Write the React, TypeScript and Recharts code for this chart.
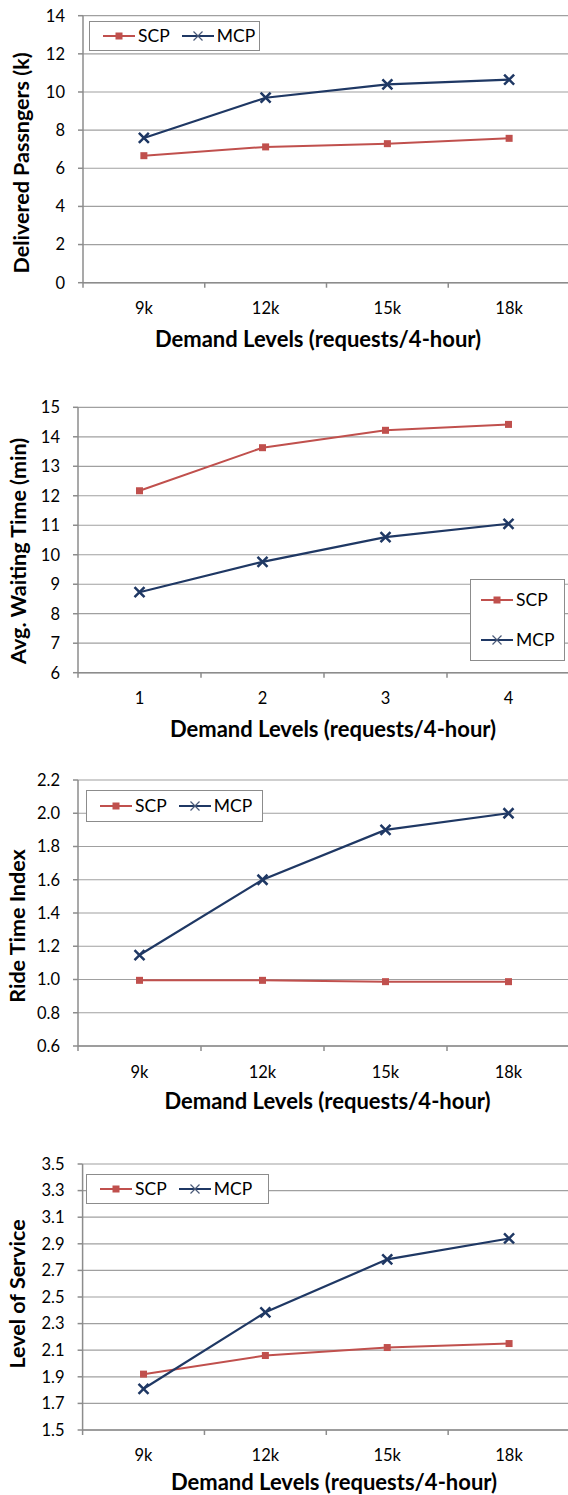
import { LineChart, Line, XAxis, YAxis, CartesianGrid, Legend } from "recharts";

// demand levels on the x axis
const kLevels = ["9k", "12k", "15k", "18k"];
const numLevels = ["1", "2", "3", "4"];

// delivered passengers (k)
const deliveredScp = [6.66, 7.12, 7.29, 7.57];
const deliveredMcp = [7.59, 9.7, 10.4, 10.65];
const deliveredTicks = [0, 2, 4, 6, 8, 10, 12, 14];

// avg. waiting time (min)
const waitingScp = [12.17, 13.63, 14.22, 14.42];
const waitingMcp = [8.73, 9.76, 10.6, 11.05];
const waitingTicks = [6, 7, 8, 9, 10, 11, 12, 13, 14, 15];

// ride time index
const rideScp = [0.995, 0.995, 0.987, 0.987];
const rideMcp = [1.147, 1.6, 1.9, 2.0];
const rideTicks = [0.6, 0.8, 1.0, 1.2, 1.4, 1.6, 1.8, 2.0, 2.2];

// level of service
const losScp = [1.92, 2.06, 2.12, 2.15];
const losMcp = [1.81, 2.385, 2.783, 2.94];
const losTicks = [1.5, 1.7, 1.9, 2.1, 2.3, 2.5, 2.7, 2.9, 3.1, 3.3, 3.5];

const seriesOrder = ["SCP", "MCP"];

const RED = "#C0504D";
const NAVY = "#1F3864";
const GRID = "#a0a0a0";
const AXIS = "#8c8c8c";

type Panel = {
    top: number;
    height: number;
    plotTop: number;
    plotBottom: number;
    left: number;
    cats: string[];
    scp: number[];
    mcp: number[];
    yTicks: number[];
    decimals: number;
    yTitle: string;
    yTitleX: number;
    yTitleY: number;
    xLabelY: number;
    xTitleX: number;
    xTitleY: number;
    legend: { left: number; top: number; width: number; height: number; vertical: boolean };
};

const panels: Panel[] = [
    {
        top: 0, height: 360, plotTop: 15.7, plotBottom: 282.7, left: 83,
        cats: kLevels, scp: deliveredScp, mcp: deliveredMcp, yTicks: deliveredTicks, decimals: 0,
        yTitle: "Delivered Passngers (k)", yTitleX: 21, yTitleY: 163,
        xLabelY: 308, xTitleX: 318, xTitleY: 338,
        legend: { left: 89, top: 21, width: 171, height: 30, vertical: false },
    },
    {
        top: 360, height: 400, plotTop: 47.3, plotBottom: 312.7, left: 78,
        cats: numLevels, scp: waitingScp, mcp: waitingMcp, yTicks: waitingTicks, decimals: 0,
        yTitle: "Avg. Waiting Time (min)", yTitleX: 17.5, yTitleY: 191,
        xLabelY: 338, xTitleX: 333, xTitleY: 368,
        legend: { left: 470, top: 219, width: 95, height: 82, vertical: true },
    },
    {
        top: 760, height: 360, plotTop: 20, plotBottom: 286, left: 78,
        cats: kLevels, scp: rideScp, mcp: rideMcp, yTicks: rideTicks, decimals: 1,
        yTitle: "Ride Time Index", yTitleX: 16.5, yTitleY: 166,
        xLabelY: 312, xTitleX: 327.5, xTitleY: 340,
        legend: { left: 86, top: 30, width: 177, height: 32, vertical: false },
    },
    {
        top: 1120, height: 375, plotTop: 44, plotBottom: 310, left: 82.6,
        cats: kLevels, scp: losScp, mcp: losMcp, yTicks: losTicks, decimals: 1,
        yTitle: "Level of Service", yTitleX: 16.5, yTitleY: 174,
        xLabelY: 335, xTitleX: 334, xTitleY: 361,
        legend: { left: 86, top: 54, width: 183, height: 30, vertical: false },
    },
];

function SquareDot(props: any) {
    const { cx, cy } = props;
    if (cx == null || cy == null) return null;
    return <rect x={cx - 3.5} y={cy - 3.5} width={7} height={7} fill={RED} />;
}

function CrossDot(props: any) {
    const { cx, cy } = props;
    if (cx == null || cy == null) return null;
    const r = 5;
    return (
        <path
            d={`M${cx - r},${cy - r}L${cx + r},${cy + r}M${cx - r},${cy + r}L${cx + r},${cy - r}`}
            stroke={NAVY}
            strokeWidth={2.5}
            fill="none"
        />
    );
}

function LegendEntry({ name, color }: { name: string; color: string }) {
    return (
        <div style={{ display: "flex", alignItems: "center" }}>
            <svg width={32} height={12} style={{ display: "block" }}>
                <line x1={0} x2={32} y1={6} y2={6} stroke={color} strokeWidth={2} />
                {name === "SCP" ? (
                    <rect x={12.5} y={2.5} width={7} height={7} fill={color} />
                ) : (
                    <path d="M11.5,1.5L20.5,10.5M11.5,10.5L20.5,1.5" stroke="#4a5a78" strokeWidth={1.2} fill="none" />
                )}
            </svg>
            <span style={{ marginLeft: 3, fontSize: 17.5, color: "#000", lineHeight: "20px" }}>{name}</span>
        </div>
    );
}

function ChartPanel({ p }: { p: Panel }) {
    const rows = p.cats.map((c, i) => ({ x: i + 1, label: c, SCP: p.scp[i], MCP: p.mcp[i] }));
    const xTicks: number[] = [];
    for (let i = 0; i <= p.cats.length; i++) {
        xTicks.push(i + 0.5);
        if (i < p.cats.length) xTicks.push(i + 1);
    }
    const yMin = p.yTicks[0];
    const yMax = p.yTicks[p.yTicks.length - 1];

    const renderXTick = (props: any) => {
        const { x, y, payload } = props;
        const v = payload.value as number;
        if (Number.isInteger(v)) {
            return (
                <text x={x} y={p.xLabelY} textAnchor="middle" dominantBaseline="central" fontSize={16.5} fill="#000">
                    {p.cats[v - 1]}
                </text>
            );
        }
        return <line x1={x} x2={x} y1={y} y2={y + 5} stroke={AXIS} strokeWidth={1.5} />;
    };

    return (
        <div style={{ position: "absolute", top: p.top, left: 0 }}>
            <LineChart width={580} height={p.height} data={rows} margin={{ top: p.plotTop, right: 10, bottom: 0, left: 0 }}>
                <CartesianGrid vertical={false} stroke={GRID} strokeWidth={1.2} />
                <XAxis
                    dataKey="x"
                    type="number"
                    domain={[0.5, p.cats.length + 0.5]}
                    ticks={xTicks}
                    interval={0}
                    height={p.height - p.plotBottom}
                    tickLine={false}
                    tickSize={0}
                    tickMargin={0}
                    axisLine={{ stroke: AXIS, strokeWidth: 1.5 }}
                    tick={renderXTick}
                    label={() => (
                        <text
                            x={p.xTitleX}
                            y={p.xTitleY}
                            textAnchor="middle"
                            dominantBaseline="central"
                            fontSize={22}
                            fontWeight="bold"
                            fill="#000"
                        >
                            Demand Levels (requests/4-hour)
                        </text>
                    )}
                />
                <YAxis
                    type="number"
                    width={p.left}
                    domain={[yMin, yMax]}
                    ticks={p.yTicks}
                    interval={0}
                    allowDataOverflow
                    tickSize={5}
                    tickMargin={13}
                    axisLine={{ stroke: AXIS, strokeWidth: 1.5 }}
                    tickLine={{ stroke: AXIS, strokeWidth: 1.5 }}
                    tick={{ fill: "#000", fontSize: 16.5 }}
                    tickFormatter={(v: number) => v.toFixed(p.decimals)}
                    label={() => (
                        <text
                            x={p.yTitleX}
                            y={p.yTitleY}
                            transform={`rotate(-90 ${p.yTitleX} ${p.yTitleY})`}
                            textAnchor="middle"
                            dominantBaseline="central"
                            fontSize={21.5}
                            fontWeight="bold"
                            fill="#000"
                        >
                            {p.yTitle}
                        </text>
                    )}
                />
                <Legend
                    layout="vertical"
                    align="center"
                    verticalAlign="middle"
                    wrapperStyle={{ left: p.legend.left, top: p.legend.top, width: p.legend.width, height: p.legend.height }}
                    content={(props: any) => {
                        const items = [...(props.payload || [])].sort(
                            (a: any, b: any) => seriesOrder.indexOf(a.value) - seriesOrder.indexOf(b.value)
                        );
                        return (
                            <div
                                style={{
                                    boxSizing: "border-box",
                                    width: p.legend.width,
                                    height: p.legend.height,
                                    border: "1.5px solid #8c8c8c",
                                    background: "#fff",
                                    display: "flex",
                                    flexDirection: p.legend.vertical ? "column" : "row",
                                    alignItems: p.legend.vertical ? "flex-start" : "center",
                                    justifyContent: p.legend.vertical ? "space-around" : "flex-start",
                                    paddingLeft: p.legend.vertical ? 10 : 13,
                                    gap: p.legend.vertical ? 0 : 12,
                                }}
                            >
                                {items.map((e: any) => (
                                    <LegendEntry key={e.value} name={e.value} color={e.color} />
                                ))}
                            </div>
                        );
                    }}
                />
                <Line
                    type="linear"
                    dataKey="SCP"
                    name="SCP"
                    stroke={RED}
                    strokeWidth={2}
                    dot={<SquareDot />}
                    activeDot={false}
                    isAnimationActive={false}
                />
                <Line
                    type="linear"
                    dataKey="MCP"
                    name="MCP"
                    stroke={NAVY}
                    strokeWidth={2.2}
                    dot={<CrossDot />}
                    activeDot={false}
                    isAnimationActive={false}
                />
            </LineChart>
        </div>
    );
}

export default function App() {
    return (
        <div
            style={{
                position: "absolute",
                top: 0,
                left: 0,
                width: 568,
                height: 1495,
                overflow: "hidden",
                background: "#fff",
                fontFamily: "Lato, 'Open Sans', sans-serif",
            }}
        >
            {panels.map((p) => (
                <ChartPanel key={p.yTitle} p={p} />
            ))}
        </div>
    );
}
